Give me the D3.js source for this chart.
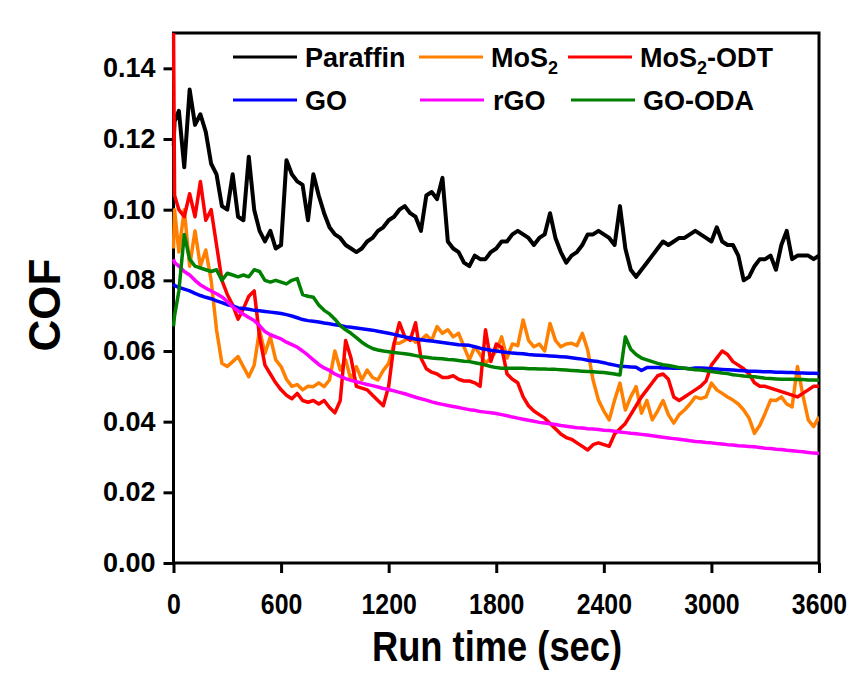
<!DOCTYPE html>
<html><head><meta charset="utf-8">
<script src="https://cdn.jsdelivr.net/npm/d3@7"></script>
<style>
body{margin:0;background:#fff;}
text{font-family:"Liberation Sans",Arial,sans-serif;font-weight:bold;}
</style></head>
<body>
<svg id="chart" width="856" height="677"></svg>
<script>
// Run time (sec) sample points
const runTime = [0, 6,
 30,60,90,120,150,180,210,240,270,300,
 330,360,390,420,450,480,510,540,570,600,
 630,660,690,720,750,780,810,840,870,900,
 930,960,990,1020,1050,1080,1110,1140,1170,1200,
 1230,1260,1290,1320,1350,1380,1410,1440,1470,1500,
 1530,1560,1590,1620,1650,1680,1710,1740,1770,1800,
 1830,1860,1890,1920,1950,1980,2010,2040,2070,2100,
 2130,2160,2190,2220,2250,2280,2310,2340,2370,2400,
 2430,2460,2490,2520,2550,2580,2610,2640,2670,2700,
 2730,2760,2790,2820,2850,2880,2910,2940,2970,3000,
 3030,3060,3090,3120,3150,3180,3210,3240,3270,3300,
 3330,3360,3390,3420,3450,3480,3510,3540,3570,3600];

const paraffin = [0.118, 0.125,
 0.128,0.112,0.134,0.124,0.127,0.122,0.113,0.110,0.101,0.100,
 0.110,0.098,0.097,0.115,0.100,0.094,0.091,0.094,0.089,0.090,
 0.114,0.110,0.108,0.107,0.097,0.110,0.104,0.099,0.095,0.093,
 0.092,0.090,0.089,0.088,0.089,0.091,0.092,0.094,0.095,0.097,
 0.098,0.100,0.101,0.099,0.098,0.094,0.104,0.105,0.103,0.109,
 0.091,0.089,0.088,0.085,0.084,0.087,0.086,0.086,0.088,0.089,
 0.091,0.091,0.093,0.094,0.093,0.092,0.090,0.092,0.093,0.099,
 0.092,0.088,0.085,0.087,0.088,0.090,0.093,0.093,0.094,0.093,
 0.092,0.090,0.101,0.089,0.083,0.081,0.083,0.085,0.087,0.089,
 0.091,0.090,0.091,0.092,0.092,0.093,0.094,0.093,0.092,0.091,
 0.095,0.091,0.090,0.090,0.087,0.080,0.081,0.084,0.086,0.086,
 0.087,0.083,0.090,0.094,0.086,0.087,0.087,0.087,0.086,0.087];

const mos2 = [0.089, 0.100,
 0.088,0.100,0.084,0.094,0.084,0.0886,0.080,0.066,0.0565,0.0556,
 0.057,0.0584,0.0555,0.0527,0.056,0.066,0.0593,0.064,0.0575,0.0556,
 0.052,0.050,0.0505,0.049,0.050,0.0499,0.051,0.0499,0.0518,0.060,
 0.0546,0.0575,0.0518,0.0556,0.0518,0.0546,0.0525,0.0518,0.0545,0.0565,
 0.0622,0.0622,0.063,0.064,0.0625,0.0631,0.0645,0.063,0.0669,0.065,
 0.066,0.064,0.065,0.0612,0.0575,0.0612,0.059,0.0565,0.058,0.060,
 0.064,0.058,0.062,0.0615,0.0688,0.063,0.0612,0.062,0.060,0.0678,
 0.063,0.0612,0.062,0.0622,0.0615,0.065,0.0603,0.0518,0.0461,0.043,
 0.0405,0.0461,0.0509,0.0433,0.047,0.0499,0.0424,0.046,0.0405,0.043,
 0.046,0.042,0.0396,0.042,0.0433,0.045,0.047,0.0465,0.047,0.0509,
 0.049,0.048,0.047,0.0461,0.045,0.0433,0.041,0.0367,0.039,0.0424,
 0.0461,0.046,0.047,0.045,0.0442,0.0556,0.0475,0.0405,0.0386,0.0414];

const mos2Odt = [0.152, 0.104,
 0.100,0.098,0.1045,0.098,0.108,0.097,0.100,0.090,0.080,0.076,
 0.073,0.069,0.072,0.0755,0.077,0.064,0.056,0.0535,0.051,0.049,
 0.0475,0.0465,0.048,0.046,0.0455,0.046,0.045,0.046,0.044,0.0425,
 0.046,0.063,0.058,0.050,0.0495,0.049,0.0475,0.046,0.0445,0.050,
 0.062,0.068,0.064,0.063,0.068,0.058,0.055,0.054,0.0535,0.0525,
 0.0525,0.053,0.052,0.0515,0.0515,0.051,0.050,0.066,0.057,0.062,
 0.061,0.0535,0.052,0.051,0.047,0.0445,0.043,0.042,0.041,0.0395,
 0.038,0.0365,0.0355,0.035,0.034,0.033,0.032,0.0335,0.034,0.0335,
 0.033,0.0365,0.038,0.0395,0.042,0.0445,0.047,0.049,0.051,0.053,
 0.0535,0.052,0.047,0.046,0.047,0.048,0.049,0.050,0.0515,0.056,
 0.058,0.060,0.059,0.057,0.056,0.055,0.0535,0.051,0.050,0.050,
 0.0495,0.049,0.0485,0.048,0.0475,0.047,0.048,0.049,0.050,0.050];

const go = [0.079, 0.0785,
 0.0780,0.0775,0.0770,0.0763,0.0757,0.0752,0.0748,0.0742,0.0737,0.0731,
 0.0728,0.0722,0.0720,0.0718,0.0715,0.0714,0.0712,0.0710,0.0708,0.0706,
 0.0703,0.0699,0.0694,0.0689,0.0686,0.0684,0.0682,0.0679,0.0677,0.0674,
 0.0672,0.0669,0.0667,0.0665,0.0663,0.0661,0.0659,0.0656,0.0653,0.0650,
 0.0647,0.0643,0.0640,0.0637,0.0634,0.0632,0.0630,0.0628,0.0626,0.0624,
 0.0622,0.0620,0.0618,0.0617,0.0616,0.0612,0.0608,0.0605,0.0602,0.0600,
 0.0598,0.0596,0.0594,0.0593,0.0592,0.0590,0.0589,0.0588,0.0587,0.0586,
 0.0585,0.0584,0.0583,0.0581,0.0579,0.0577,0.0574,0.0572,0.0570,0.0567,
 0.0563,0.0560,0.0557,0.0556,0.0555,0.0554,0.0545,0.0553,0.0553,0.0553,
 0.0552,0.0552,0.0551,0.0551,0.0551,0.0550,0.0552,0.0552,0.0551,0.0550,
 0.0549,0.0548,0.0547,0.0546,0.0545,0.0544,0.0543,0.0543,0.0542,0.0541,
 0.0541,0.0540,0.0540,0.0539,0.0539,0.0538,0.0538,0.0537,0.0537,0.0536];

const rgo = [0.086, 0.085,
 0.0840,0.0825,0.0815,0.0800,0.0787,0.0778,0.0770,0.0762,0.0753,0.0740,
 0.0725,0.0714,0.0704,0.0695,0.0686,0.0672,0.0655,0.0646,0.0640,0.0634,
 0.0625,0.0618,0.0611,0.0600,0.0588,0.0575,0.0562,0.0552,0.0545,0.0535,
 0.0528,0.0522,0.0517,0.0513,0.0509,0.0505,0.0502,0.0498,0.0494,0.0491,
 0.0487,0.0483,0.0479,0.0474,0.0469,0.0465,0.0461,0.0456,0.0452,0.0449,
 0.0446,0.0443,0.0440,0.0437,0.0434,0.0432,0.0429,0.0427,0.0425,0.0423,
 0.0420,0.0417,0.0413,0.0410,0.0407,0.0404,0.0401,0.0398,0.0396,0.0394,
 0.0392,0.0389,0.0387,0.0385,0.0383,0.0382,0.0380,0.0379,0.0378,0.0376,
 0.0375,0.0373,0.0371,0.0369,0.0367,0.0366,0.0364,0.0362,0.0360,0.0358,
 0.0356,0.0354,0.0352,0.0350,0.0348,0.0346,0.0344,0.0343,0.0341,0.0340,
 0.0338,0.0337,0.0335,0.0334,0.0332,0.0331,0.0330,0.0329,0.0327,0.0325,
 0.0324,0.0322,0.0321,0.0319,0.0318,0.0316,0.0315,0.0313,0.0311,0.0310];

const goOda = [0.067, 0.070,
 0.077,0.093,0.086,0.084,0.0835,0.083,0.0825,0.083,0.080,0.082,
 0.0815,0.081,0.0815,0.081,0.083,0.0825,0.080,0.0795,0.080,0.0795,
 0.0790,0.0800,0.0805,0.0760,0.0755,0.0752,0.0730,0.0715,0.0705,0.0690,
 0.0672,0.0660,0.0650,0.0638,0.0625,0.0615,0.0607,0.0603,0.0600,0.0598,
 0.0596,0.0594,0.0592,0.0590,0.0587,0.0584,0.0582,0.0580,0.0579,0.0578,
 0.0576,0.0575,0.0573,0.0571,0.0570,0.0567,0.0564,0.0560,0.0556,0.0553,
 0.0551,0.0551,0.0551,0.0551,0.0551,0.0550,0.0550,0.0549,0.0549,0.0548,
 0.0548,0.0547,0.0546,0.0545,0.0544,0.0543,0.0542,0.0541,0.0540,0.0539,
 0.0537,0.0535,0.0532,0.0640,0.0605,0.0590,0.0580,0.0575,0.0570,0.0565,
 0.0561,0.0559,0.0556,0.0553,0.0551,0.0549,0.0547,0.0546,0.0544,0.0542,
 0.0540,0.0538,0.0536,0.0533,0.0531,0.0529,0.0528,0.0527,0.0525,0.0523,
 0.0522,0.0521,0.0520,0.0520,0.0520,0.0519,0.0519,0.0518,0.0518,0.0517];

const seriesNames = ["Paraffin", "MoS2", "MoS2-ODT", "GO", "rGO", "GO-ODA"];
const seriesColors = ["#000000", "#ff8000", "#ff0000", "#0000ff", "#ff00ff", "#008000"];
const seriesValues = [paraffin, mos2, mos2Odt, go, rgo, goOda];

const xTicks = [0, 600, 1200, 1800, 2400, 3000, 3600];
const yTicks = [0.00, 0.02, 0.04, 0.06, 0.08, 0.10, 0.12, 0.14];

const svg = d3.select("#chart");
const L = 173.5, R = 819, T = 33, B = 563;
const x = d3.scaleLinear().domain([0, 3600]).range([L, R]);
const y = d3.scaleLinear().domain([0, 0.15]).range([B, T]);

svg.append("rect").attr("width", 856).attr("height", 677).attr("fill", "#fff");

// axes
const xAxis = svg.append("g").attr("transform", `translate(0,${B})`)
  .call(d3.axisBottom(x).tickValues(xTicks).tickSize(10).tickPadding(18).tickFormat(d3.format("d")));
const yAxis = svg.append("g").attr("transform", `translate(${L},0)`)
  .call(d3.axisLeft(y).tickValues(yTicks).tickSize(10).tickPadding(8).tickFormat(d3.format(".2f")));
[xAxis, yAxis].forEach(g => {
  g.select(".domain").remove();
  g.selectAll(".tick line").attr("stroke", "#000").attr("stroke-width", 3);
  g.selectAll(".tick text").attr("fill", "#000").style("font-size", "27px")
   .style("font-family", '"Liberation Sans",Arial,sans-serif').style("font-weight", "bold");
});
xAxis.selectAll(".tick text").attr("transform", "scale(0.92,1.08)")
  .attr("x", d => (0) ).each(function(d){ d3.select(this).attr("dy", "0.71em"); });

svg.append("rect").attr("x", L).attr("y", T).attr("width", R - L).attr("height", B - T)
  .attr("fill", "none").attr("stroke", "#000").attr("stroke-width", 3);

// data
svg.append("clipPath").attr("id", "clip").append("rect")
  .attr("x", L - 2).attr("y", T).attr("width", R - L + 2).attr("height", B - T);
const line = d3.line().x((d, i) => x(runTime[i])).y(d => y(d));
const dataG = svg.append("g").attr("clip-path", "url(#clip)");
seriesValues.forEach((vals, k) => {
  dataG.append("path").datum(vals).attr("d", line)
    .attr("fill", "none").attr("stroke", seriesColors[k])
    .attr("stroke-width", k === 0 ? 4 : 3.5).attr("stroke-linejoin", "round");
});

// legend
const legendPos = [
  {lx: 233, tx: 305, ly: 57}, {lx: 419, tx: 491, ly: 57}, {lx: 568, tx: 640, ly: 57},
  {lx: 233, tx: 305, ly: 100}, {lx: 420, tx: 493, ly: 100}, {lx: 571, tx: 643, ly: 100}
];
const lg = svg.append("g");
seriesNames.forEach((name, k) => {
  const p = legendPos[k];
  lg.append("line").attr("x1", p.lx).attr("x2", p.lx + 64).attr("y1", p.ly).attr("y2", p.ly)
    .attr("stroke", seriesColors[k]).attr("stroke-width", 3);
  const t = lg.append("text").attr("x", p.tx).attr("y", p.ly + 10).style("font-size", "27px").attr("fill", "#000");
  const m = name.match(/^(MoS)2(.*)$/);
  if (m) {
    t.append("tspan").text(m[1]);
    t.append("tspan").text("2").style("font-size", "18px").attr("dy", 7);
    if (m[2]) t.append("tspan").text(m[2]).attr("dy", -7);
  } else t.text(name);
});

// titles
svg.append("text").attr("x", 497).attr("y", 661).attr("text-anchor", "middle")
  .attr("textLength", 250).attr("lengthAdjust", "spacingAndGlyphs")
  .style("font-size", "42px").text("Run time (sec)");
svg.append("text").attr("transform", "translate(60,305) rotate(-90)").attr("text-anchor", "middle")
  .style("font-size", "44px").text("COF");
</script>
</body></html>
